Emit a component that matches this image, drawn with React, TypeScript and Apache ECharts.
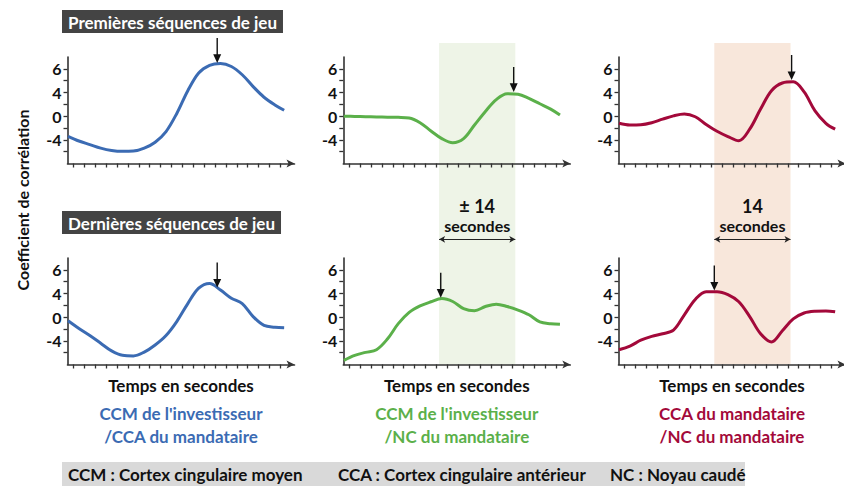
import { useEffect, useRef } from "react";
import * as echarts from "echarts";

// Time (seconds) sample positions shared by all curves
const X = [-1, 1, 3, 5, 7, 9, 11, 13, 15, 17, 19, 21, 23, 25, 27, 29, 31, 33, 35, 37, 38.7];

// Premières séquences de jeu
const FIRST_CCM_CCA = [-3.4, -4.2, -4.8, -5.4, -5.8, -5.95, -5.9, -5.4, -4.4, -2.6, 0.5, 4.3, 7.3, 8.6, 8.9, 8.4, 7.0, 5.0, 3.2, 1.9, 1.0];
const FIRST_CCM_NC = [0.0, -0.05, -0.1, -0.12, -0.18, -0.2, -0.3, -1.1, -2.5, -3.8, -4.5, -3.8, -1.5, 0.8, 2.8, 3.8, 3.7, 3.0, 2.1, 1.2, 0.2];
const FIRST_CCA_NC = [-1.2, -1.5, -1.45, -1.1, -0.5, 0.05, 0.35, -0.1, -1.4, -2.55, -3.45, -4.15, -2.2, 1.2, 4.3, 5.6, 5.8, 4.1, 0.9, -1.2, -2.2];

// Dernières séquences de jeu
const LAST_CCM_CCA = [-0.6, -1.9, -3.1, -4.4, -5.7, -6.45, -6.55, -5.9, -4.7, -3.1, -0.7, 2.3, 4.9, 5.7, 4.6, 3.2, 2.3, 0.1, -1.4, -1.7, -1.8];
const LAST_CCM_NC = [-7.3, -6.45, -5.95, -5.5, -3.7, -1.1, 0.8, 1.9, 2.6, 3.15, 2.65, 1.45, 1.1, 1.8, 2.2, 1.8, 1.2, 0.4, -0.8, -1.1, -1.2];
const LAST_CCA_NC = [-5.5, -4.9, -3.9, -3.25, -2.8, -2.2, 0.4, 3.0, 4.3, 4.3, 3.8, 2.6, 0.1, -2.8, -4.2, -2.3, -0.3, 0.7, 1.0, 1.05, 0.9];

// Peak arrows: time and curve value at arrow tip (top row, bottom row)
const ARROW_X_FIRST = [26.4, 30.2, 30.7];
const ARROW_Y_FIRST = [9.0, 4.1, 6.1];
const ARROW_X_LAST = [26.4, 16.8, 16.5];
const ARROW_Y_LAST = [5.0, 3.3, 4.5];

// Highlighted 14-second window
const WINDOW_START = 16.5;
const WINDOW_END = 30.5;
const WINDOW_LABELS = ["± 14", "14"];
const WINDOW_UNIT = "secondes";

// Axis ticks
const X_TICKS = [0, 2, 4, 6, 8, 10, 12, 14, 16, 18, 20, 22, 24, 26, 28, 30, 32, 34, 36, 38];
const Y_TICKS = [-6, -4, -2, 0, 2, 4, 6, 8];
const Y_LABEL_VALUES = [-4, 0, 4, 8];
const Y_LABEL_TEXT = ["-4", "0", "4", "6"];

const ROW_TITLES = ["Premières séquences de jeu", "Dernières séquences de jeu"];
const COLUMN_CAPTIONS = [
  "CCM de l'investisseur\n/CCA du mandataire",
  "CCM de l'investisseur\n/NC du mandataire",
  "CCA du mandataire\n/NC du mandataire",
];
const ABBREVIATIONS = [
  "CCM : Cortex cingulaire moyen",
  "CCA : Cortex cingulaire antérieur",
  "NC : Noyau caudé",
];

const COLORS = ["#3b6bb3", "#5bb04a", "#a3093a"];
const SHADES = ["#eef4e7", "#f8e7db"];

const FONT = 'Lato, "Liberation Sans", sans-serif';

const X_MIN = -1.1;
const X_MAX = 40.6;
const COL_LEFT = [67.5, 343.3, 618.5];
const GRID_W = 227;
const ROW_TOP = [57, 258];
const GRID_H = 106.5;

const ARROW_PATH = "path://M3.3,0L4.7,0L4.7,17L8,17L4,26L0,17L3.3,17Z";

export default function App() {
  const ref = useRef<HTMLDivElement>(null);

  useEffect(() => {
    if (!ref.current) return;
    const chart = echarts.init(ref.current, null, { renderer: "svg" });

    const rows = [
      { data: [FIRST_CCM_CCA, FIRST_CCM_NC, FIRST_CCA_NC], ax: ARROW_X_FIRST, ay: ARROW_Y_FIRST },
      { data: [LAST_CCM_CCA, LAST_CCM_NC, LAST_CCA_NC], ax: ARROW_X_LAST, ay: ARROW_Y_LAST },
    ];

    const grids: any[] = [];
    const xAxes: any[] = [];
    const yAxes: any[] = [];
    const series: any[] = [];
    const axisColor = "#333";

    rows.forEach((row, r) => {
      row.data.forEach((vals, c) => {
        const gi = grids.length;
        grids.push({
          left: COL_LEFT[c],
          top: ROW_TOP[r],
          width: GRID_W,
          height: GRID_H,
          outerBoundsMode: "none",
          containLabel: false,
        });
        xAxes.push({
          gridIndex: gi,
          type: "value",
          min: X_MIN,
          max: X_MAX,
          z: 3,
          axisLine: {
            show: true,
            onZero: false,
            symbol: ["none", "arrow"],
            symbolSize: [6, 8],
            lineStyle: { color: axisColor, width: 1.6 },
          },
          axisTick: { show: true, customValues: X_TICKS, length: 4, lineStyle: { color: axisColor, width: 1.3 } },
          axisLabel: { show: false },
          splitLine: { show: false },
          name: r === 1 ? "Temps en secondes" : "",
          nameLocation: "middle",
          nameGap: 12,
          nameTextStyle: { fontFamily: FONT, fontWeight: "bold", fontSize: 17, color: "#111" },
        });
        yAxes.push({
          gridIndex: gi,
          type: "value",
          min: -8,
          max: 10,
          z: 3,
          axisLine: { show: true, onZero: false, lineStyle: { color: axisColor, width: 1.6 } },
          axisTick: { show: true, customValues: Y_TICKS, length: 4, lineStyle: { color: axisColor, width: 1.3 } },
          axisLabel: {
            show: true,
            customValues: Y_LABEL_VALUES,
            formatter: (v: number) => {
              const k = Y_LABEL_VALUES.indexOf(v);
              return k >= 0 ? Y_LABEL_TEXT[k] : "";
            },
            margin: 6,
            fontFamily: FONT,
            fontWeight: "bold",
            fontSize: 16,
            color: "#111",
          },
          splitLine: { show: false },
        });
        series.push({
          type: "line",
          xAxisIndex: gi,
          yAxisIndex: gi,
          data: X.map((x, i) => [x, vals[i]]),
          smooth: 0.35,
          showSymbol: false,
          symbol: "none",
          clip: false,
          z: 4,
          lineStyle: { color: COLORS[c], width: 3 },
          markPoint: {
            symbol: ARROW_PATH,
            symbolSize: [8, 25],
            symbolOffset: [0, "-50%"],
            silent: true,
            z: 6,
            itemStyle: { color: "#111" },
            label: { show: false },
            data: [{ coord: [row.ax[c], row.ay[c]] }],
          },
        });
      });
    });

    // Shaded window spanning both rows, for columns 2 and 3
    const spanTop = 43;
    const spanBottom = ROW_TOP[1] + GRID_H;
    const spanH = spanBottom - spanTop;
    [1, 2].forEach((c, k) => {
      const gi = grids.length;
      grids.push({
        left: COL_LEFT[c],
        top: spanTop,
        width: GRID_W,
        height: spanH,
        outerBoundsMode: "none",
        containLabel: false,
      });
      xAxes.push({ gridIndex: gi, type: "value", min: X_MIN, max: X_MAX, show: false });
      yAxes.push({ gridIndex: gi, type: "value", min: 0, max: 1, show: false });
      const lineY = (spanBottom - 239.3) / spanH;
      const numY = (spanBottom - 205.5) / spanH;
      series.push({
        type: "line",
        xAxisIndex: gi,
        yAxisIndex: gi,
        data: [[WINDOW_START, 2]],
        showSymbol: false,
        symbol: "none",
        silent: true,
        z: 1,
        lineStyle: { opacity: 0 },
        markArea: {
          silent: true,
          z: 0,
          itemStyle: { color: SHADES[k] },
          data: [[{ xAxis: WINDOW_START }, { xAxis: WINDOW_END }]],
        },
        markLine: {
          silent: true,
          z: 5,
          symbol: ["arrow", "arrow"],
          symbolSize: [5, 6],
          lineStyle: { color: "#222", width: 1, type: "solid" },
          label: {
            show: true,
            position: "insideMiddleTop",
            distance: 6,
            formatter: WINDOW_UNIT,
            fontFamily: FONT,
            fontWeight: "bold",
            fontSize: 16,
            color: "#111",
          },
          data: [[{ coord: [WINDOW_START, lineY] }, { coord: [WINDOW_END, lineY] }]],
        },
        markPoint: {
          symbol: "rect",
          symbolSize: 1,
          silent: true,
          z: 5,
          itemStyle: { color: "rgba(0,0,0,0)" },
          label: {
            show: true,
            position: "inside",
            formatter: WINDOW_LABELS[k],
            fontFamily: FONT,
            fontWeight: "bold",
            fontSize: 18,
            color: "#111",
          },
          data: [{ coord: [(WINDOW_START + WINDOW_END) / 2, numY] }],
        },
      });
    });

    const titles: any[] = [];
    ROW_TITLES.forEach((t, r) => {
      titles.push({
        text: t,
        left: 62,
        top: r === 0 ? 10 : 211,
        padding: [3, 6, 2, 6],
        backgroundColor: "#444444",
        textStyle: { fontFamily: FONT, fontWeight: "bold", fontSize: 17, color: "#ffffff", lineHeight: 18 },
      });
    });
    COLUMN_CAPTIONS.forEach((t, c) => {
      titles.push({
        text: t,
        left: COL_LEFT[c] + GRID_W / 2,
        textAlign: "center",
        top: 402,
        padding: 0,
        textStyle: { fontFamily: FONT, fontWeight: "bold", fontSize: 17, color: COLORS[c], lineHeight: 23, align: "center" },
      });
    });

    const abbrevX = [68, 338, 610];
    const graphic: any[] = [
      {
        type: "text",
        x: 22,
        y: 200,
        rotation: Math.PI / 2,
        style: {
          text: "Coefficient de corrélation",
          fontFamily: FONT,
          fontWeight: "bold",
          fontSize: 16,
          fill: "#111",
          align: "center",
          verticalAlign: "middle",
        },
      },
      { type: "rect", shape: { x: 62, y: 462, width: 683, height: 24 }, style: { fill: "#d9d9d9" } },
      ...ABBREVIATIONS.map((t, i) => ({
        type: "text",
        x: abbrevX[i],
        y: 474,
        style: { text: t, fontFamily: FONT, fontWeight: "bold", fontSize: 17, fill: "#111", verticalAlign: "middle" },
      })),
    ];

    chart.setOption({
      animation: false,
      backgroundColor: "#ffffff",
      title: titles,
      grid: grids,
      xAxis: xAxes,
      yAxis: yAxes,
      series,
      graphic,
    });

    return () => chart.dispose();
  }, []);

  return (
    <div
      ref={ref}
      style={{ position: "fixed", left: 0, top: 0, width: 844, height: 486 }}
    />
  );
}
